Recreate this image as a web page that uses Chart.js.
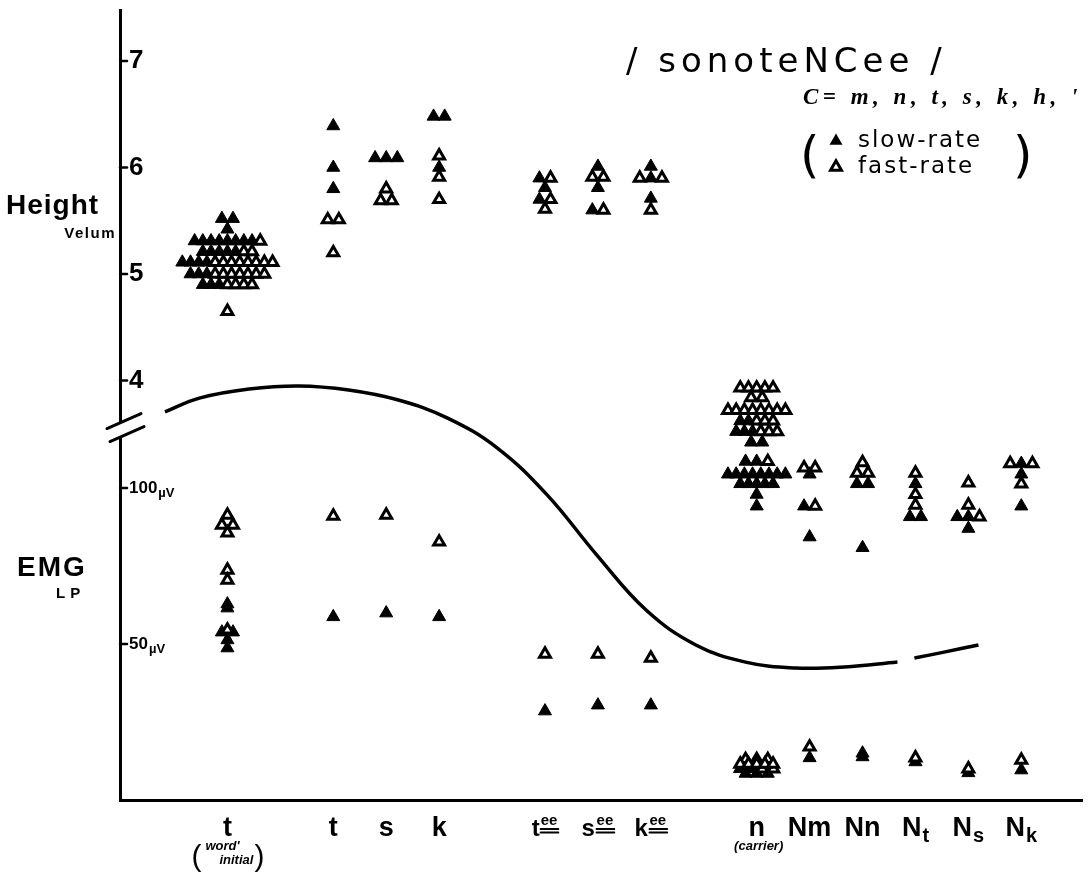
<!DOCTYPE html>
<html>
<head>
<meta charset="utf-8">
<script src="https://cdn.jsdelivr.net/npm/chart.js@4.4.1/dist/chart.umd.min.js"></script>
<style>
  html, body { margin: 0; padding: 0; background: #fff; }
  #wrap { width: 1092px; height: 875px; }
</style>
</head>
<body>
<div id="wrap"><canvas id="c"></canvas></div>
<script>
// x slots (blank slots are the gaps between groups)
const categories = ['t-initial', '', 't', 's', 'k', '', 't-ee', 's-ee', 'k-ee', '', 'n', 'Nm', 'Nn', 'Nt', 'Ns', 'Nk'];
const xLabelMain = ['t', '', 't', 's', 'k', '', 't', 's', 'k', '', 'n', 'Nm', 'Nn', 'N', 'N', 'N'];
const xLabelSup  = ['', '', '', '', '', '', 'ee', 'ee', 'ee', '', '', '', '', '', '', ''];
const xLabelSub  = ['', '', '', '', '', '', '', '', '', '', '', '', '', 't', 's', 'k'];
const xLabelNote = ["(word' initial)", '', '', '', '', '', '', '', '', '', '(carrier)', '', '', '', '', ''];

const heightTicks = [4, 5, 6, 7];
const emgTicks = [50, 100];

// [category, value, how many marks at that value]
// velum height, slow rate (filled)
const heightSlow = [
  ['t-initial', 5.52, 2], ['t-initial', 5.42, 1], ['t-initial', 5.31, 8], ['t-initial', 5.21, 5],
  ['t-initial', 5.11, 4], ['t-initial', 5.0, 3], ['t-initial', 4.9, 3],
  ['t', 6.39, 1], ['t', 6.0, 1], ['t', 5.8, 1],
  ['s', 6.09, 3],
  ['k', 6.48, 2], ['k', 6.0, 1],
  ['t-ee', 5.9, 1], ['t-ee', 5.81, 1], ['t-ee', 5.7, 1],
  ['s-ee', 6.01, 1], ['s-ee', 5.81, 1], ['s-ee', 5.6, 1],
  ['k-ee', 6.01, 1], ['k-ee', 5.9, 1], ['k-ee', 5.71, 1],
  ['n', 3.62, 2], ['n', 3.52, 3], ['n', 3.42, 2], ['n', 3.24, 2], ['n', 3.12, 8],
  ['n', 3.03, 5], ['n', 2.93, 1], ['n', 2.82, 1],
  ['Nm', 3.12, 1], ['Nm', 2.82, 1], ['Nm', 2.53, 1],
  ['Nn', 3.03, 2], ['Nn', 2.43, 1],
  ['Nt', 3.03, 1], ['Nt', 2.72, 2],
  ['Ns', 2.72, 2], ['Ns', 2.61, 1],
  ['Nk', 3.22, 1], ['Nk', 3.12, 1], ['Nk', 2.82, 1]
];
// velum height, fast rate (open)
const heightFast = [
  ['t-initial', 5.31, 1], ['t-initial', 5.21, 2], ['t-initial', 5.11, 8], ['t-initial', 5.0, 7],
  ['t-initial', 4.9, 4], ['t-initial', 4.65, 1],
  ['t', 5.51, 2], ['t', 5.2, 1],
  ['s', 5.8, 1], ['s', 5.69, 2],
  ['k', 6.11, 1], ['k', 5.91, 1], ['k', 5.7, 1],
  ['t-ee', 5.9, 1], ['t-ee', 5.7, 1], ['t-ee', 5.61, 1],
  ['s-ee', 5.91, 2], ['s-ee', 5.6, 1],
  ['k-ee', 5.9, 2], ['k-ee', 5.6, 1],
  ['n', 3.93, 5], ['n', 3.84, 2], ['n', 3.72, 8], ['n', 3.62, 3], ['n', 3.52, 3], ['n', 3.24, 1],
  ['Nm', 3.18, 2], ['Nm', 2.82, 1],
  ['Nn', 3.23, 1], ['Nn', 3.13, 2],
  ['Nt', 3.13, 1], ['Nt', 2.93, 1], ['Nt', 2.83, 1],
  ['Ns', 3.04, 1], ['Ns', 2.83, 1], ['Ns', 2.72, 1],
  ['Nk', 3.22, 2], ['Nk', 3.03, 1]
];
// EMG LP in microvolts
const emgSlow = [
  ['t-initial', 62.8, 1], ['t-initial', 61.5, 1], ['t-initial', 53.8, 2], ['t-initial', 51.3, 1], ['t-initial', 48.7, 1],
  ['t', 58.7, 1], ['s', 59.9, 1], ['k', 58.7, 1],
  ['t-ee', 28.5, 1], ['s-ee', 30.4, 1], ['k-ee', 30.4, 1],
  ['n', 10, 2], ['n', 8.5, 3],
  ['Nm', 13.5, 1], ['Nn', 15, 1], ['Nn', 13.8, 1], ['Nt', 12.2, 1], ['Ns', 8.7, 1], ['Nk', 9.6, 1]
];
const emgFast = [
  ['t-initial', 91.3, 1], ['t-initial', 88.1, 2], ['t-initial', 85.6, 1], ['t-initial', 73.7, 1],
  ['t-initial', 70.5, 1], ['t-initial', 54.5, 1],
  ['t', 91.0, 1], ['s', 91.3, 1], ['k', 82.7, 1],
  ['t-ee', 46.8, 1], ['s-ee', 46.8, 1], ['k-ee', 45.5, 1],
  ['n', 13, 3], ['n', 11.5, 5], ['n', 10, 2],
  ['Nm', 17.0, 1], ['Nt', 13.5, 1], ['Ns', 10, 1], ['Nk', 12.8, 1]
];

// hand drawn trend curve (x in slots, y in microvolts), null = pen lifted
const curveX = [-1.18, -0.53, 0.41, 1.35, 2.29, 3.23, 4.16, 5.10, 6.04, 6.98, 7.91, 8.85, 9.79, 10.73, 11.66, 12.66, 12.82, 12.98, 13.54, 14.19];
const curveY = [124.4, 128.8, 131.7, 132.7, 131.4, 128.2, 122.4, 112.8, 97.8, 78.5, 60.9, 49.7, 44.2, 42.3, 42.6, 44.2, null, 45.5, 47.4, 49.7];

// marks sharing a value sit side by side
function spread(slow, fast) {
  const groups = new Map();
  const add = (list, kind) => list.forEach(([cat, v, n]) => {
    const key = cat + '|' + v;
    if (!groups.has(key)) groups.set(key, { x: categories.indexOf(cat), y: v, s: 0, f: 0 });
    groups.get(key)[kind] += n;
  });
  add(slow, 's');
  add(fast, 'f');
  const outS = [], outF = [];
  groups.forEach(g => {
    const order = (g.s === 1 && g.f === 2) ? ['f', 's', 'f']
      : [...Array(g.s).fill('s'), ...Array(g.f).fill('f')];
    const n = order.length, d = n > 4 ? 0.155 : 0.21;
    order.forEach((k, i) => (k === 's' ? outS : outF).push({ x: g.x + (i - (n - 1) / 2) * d, y: g.y }));
  });
  return [outS, outF];
}

const [hS, hF] = spread(heightSlow, heightFast);
const [eS, eF] = spread(emgSlow, emgFast);

const SANS = '"Liberation Sans", Arial, sans-serif';
const NARROW = '"Liberation Sans Narrow", "Liberation Sans", Arial, sans-serif';

const filled = { pointStyle: 'triangle', pointRadius: 7.5, pointBackgroundColor: '#000', pointBorderColor: '#000', pointBorderWidth: 1 };
const open = { pointStyle: 'triangle', pointRadius: 6.3, pointBackgroundColor: '#fff', pointBorderColor: '#000', pointBorderWidth: 3 };

function tri(ctx, x, y, r, fill) {
  ctx.beginPath();
  ctx.moveTo(x, y - r);
  ctx.lineTo(x + r * 0.866, y + r / 2);
  ctx.lineTo(x - r * 0.866, y + r / 2);
  ctx.closePath();
  if (fill) { ctx.fillStyle = '#000'; ctx.fill(); }
  else { ctx.fillStyle = '#fff'; ctx.fill(); ctx.lineWidth = 3; ctx.strokeStyle = '#000'; ctx.stroke(); }
}

const decor = {
  id: 'decor',
  afterDraw(chart) {
    const { ctx, chartArea: a } = chart;
    const { x, yH, yE } = chart.scales;
    ctx.save();
    ctx.strokeStyle = '#000';
    ctx.fillStyle = '#000';
    ctx.lineCap = 'round';

    // tick dashes on the right of the axis
    ctx.lineWidth = 2.5;
    const dash = py => { ctx.beginPath(); ctx.moveTo(a.left, py); ctx.lineTo(a.left + 7, py); ctx.stroke(); };
    heightTicks.forEach(v => dash(yH.getPixelForValue(v)));
    emgTicks.forEach(v => dash(yE.getPixelForValue(v)));

    // EMG tick labels
    ctx.textBaseline = 'middle';
    ctx.textAlign = 'left';
    emgTicks.forEach(v => {
      const py = yE.getPixelForValue(v);
      ctx.font = 'bold 17px ' + SANS;
      const s = String(v);
      ctx.fillText(s, a.left + 9, py);
      const w = ctx.measureText(s).width;
      ctx.font = 'bold 13px ' + SANS;
      ctx.fillText('\u00b5V', a.left + 10 + w, py + 5);
    });

    // axis break
    const by = yH.getPixelForValue(3.53);
    ctx.fillStyle = '#fff';
    ctx.fillRect(a.left - 3, by - 8, 6, 14);
    ctx.lineWidth = 3;
    ctx.beginPath();
    ctx.moveTo(a.left - 13, by - 2); ctx.lineTo(a.left + 21, by - 17);
    ctx.moveTo(a.left - 10, by + 11); ctx.lineTo(a.left + 24, by - 4);
    ctx.stroke();

    // axis titles
    ctx.fillStyle = '#000';
    ctx.textAlign = 'left';
    ctx.letterSpacing = '1px';
    ctx.font = 'bold 28px ' + SANS;
    ctx.fillText('Height', 6, 206);
    ctx.letterSpacing = '1.5px';
    ctx.font = 'bold 15px ' + SANS;
    ctx.textAlign = 'right';
    ctx.fillText('Velum', 116, 234);
    ctx.textAlign = 'left';
    ctx.letterSpacing = '2px';
    ctx.font = 'bold 28px ' + SANS;
    ctx.fillText('EMG', 17, 568);
    ctx.letterSpacing = '5px';
    ctx.font = 'bold 15px ' + SANS;
    ctx.fillText('LP', 56, 594);
    ctx.letterSpacing = '0px';

    // category labels
    ctx.textBaseline = 'alphabetic';
    const base = a.bottom + 36;
    categories.forEach((c, i) => {
      if (!xLabelMain[i]) return;
      const px = x.getPixelForValue(i);
      ctx.font = 'bold 27px ' + NARROW;
      const wm = ctx.measureText(xLabelMain[i]).width;
      let ws = 0;
      const sub = xLabelSub[i], sup = xLabelSup[i];
      if (sub) { ctx.font = 'bold 20px ' + NARROW; ws = ctx.measureText(sub).width + 1; }
      if (sup) { ctx.font = 'bold 15px ' + NARROW; ws = ctx.measureText(sup).width + 1; }
      const x0 = px - (wm + ws) / 2;
      ctx.textAlign = 'left';
      ctx.font = (sup ? 'bold 24px ' : 'bold 27px ') + NARROW;
      ctx.fillText(xLabelMain[i], x0, base);
      if (sub) {
        ctx.font = 'bold 20px ' + NARROW;
        ctx.fillText(sub, x0 + wm + 1, base + 6);
      }
      if (sup) {
        ctx.font = 'bold 15px ' + NARROW;
        ctx.fillText(sup, x0 + wm, base - 11);
        ctx.lineWidth = 2;
        ctx.beginPath();
        ctx.moveTo(x0 + wm, base - 7); ctx.lineTo(x0 + wm + ws, base - 7);
        ctx.moveTo(x0 + wm, base - 3.5); ctx.lineTo(x0 + wm + ws, base - 3.5);
        ctx.stroke();
      }
      const note = xLabelNote[i];
      if (note) {
        const parts = note.split(' ');
        if (parts.length === 2) {
          ctx.font = '30px ' + SANS;
          ctx.fillText('(', px - 36, base + 30);
          ctx.font = 'italic bold 13px ' + NARROW;
          ctx.fillText(parts[0].slice(1), px - 22, base + 14);
          ctx.fillText(parts[1].slice(0, -1), px - 8, base + 28);
          ctx.font = '30px ' + SANS;
          ctx.fillText(')', px + 27, base + 30);
        } else {
          ctx.font = 'italic bold 13px ' + NARROW;
          ctx.textAlign = 'center';
          ctx.fillText(note, px + 2, base + 14);
        }
      }
    });

    // title
    ctx.textAlign = 'left';
    ctx.font = '34px "DejaVu Sans", sans-serif';
    ctx.letterSpacing = '5px';
    ctx.fillText('/ sonoteNCee /', 626, 72);
    ctx.font = 'italic bold 23px "Liberation Serif", serif';
    ctx.letterSpacing = '4.5px';
    ctx.fillText("C= m, n, t, s, k, h, '", 803, 104);

    // legend
    ctx.letterSpacing = '1px';
    ctx.font = '50px "DejaVu Sans", sans-serif';
    ctx.fillText('(', 800, 172);
    ctx.fillText(')', 1013, 172);
    tri(ctx, 836, 141, 7.5, true);
    tri(ctx, 836, 167, 6.3, false);
    ctx.fillStyle = '#000';
    ctx.letterSpacing = '2px';
    ctx.font = '23px "DejaVu Sans", sans-serif';
    ctx.fillText('slow-rate', 858, 147);
    ctx.fillText('fast-rate', 858, 173);
    ctx.restore();
  }
};

new Chart(document.getElementById('c'), {
  type: 'scatter',
  data: {
    datasets: [
      { label: 'fast-rate height', data: hF, yAxisID: 'yH', ...open },
      { label: 'fast-rate EMG', data: eF, yAxisID: 'yE', ...open },
      { label: 'slow-rate height', data: hS, yAxisID: 'yH', ...filled },
      { label: 'slow-rate EMG', data: eS, yAxisID: 'yE', ...filled },
      {
        label: 'trend', data: curveX.map((v, i) => ({ x: v, y: curveY[i] })), yAxisID: 'yE',
        showLine: true, spanGaps: false, tension: 0.4, borderColor: '#000', borderWidth: 3.5,
        pointRadius: 0, fill: false
      }
    ]
  },
  options: {
    responsive: true,
    maintainAspectRatio: false,
    animation: false,
    layout: { padding: { left: 120, top: 10, right: 2, bottom: 75 } },
    plugins: { legend: { display: false }, tooltip: { enabled: false } },
    scales: {
      x: {
        type: 'linear', min: -2.03, max: 16.16,
        grid: { display: false, drawTicks: false },
        ticks: { display: false },
        border: { display: true, width: 3, color: '#000' },
        afterFit: s => { s.height = 0; s.paddingLeft = 0; s.paddingRight = 0; }
      },
      yH: {
        type: 'linear', position: 'left', min: 0.061, max: 7.479,
        grid: { display: false, drawTicks: false },
        border: { display: true, width: 3, color: '#000' },
        afterBuildTicks: s => { s.ticks = heightTicks.map(v => ({ value: v })); },
        afterFit: s => { s.width = 0; s.paddingTop = 0; s.paddingBottom = 0; },
        ticks: {
          mirror: true, padding: 9, color: '#000',
          font: { family: SANS, size: 26, weight: 'bold' }
        }
      },
      yE: { type: 'linear', position: 'left', display: false, min: 0, max: 253.2 }
    }
  },
  plugins: [decor]
});
</script>
</body>
</html>
